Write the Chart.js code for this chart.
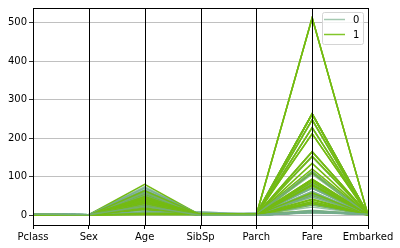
<!DOCTYPE html>
<html>
<head>
<meta charset="utf-8">
<script src="https://cdn.jsdelivr.net/npm/chart.js@4"></script>
<style>
  html, body { margin: 0; padding: 0; background: #fff; }
  #wrap { width: 400px; height: 248px; position: relative; }
</style>
</head>
<body>
<div id="wrap"><canvas id="pc"></canvas></div>
<script>
// axes of the parallel coordinates plot
const columns = ['Pclass', 'Sex', 'Age', 'SibSp', 'Parch', 'Fare', 'Embarked'];
const yTicks = [0, 100, 200, 300, 400, 500];
const classNames = ['0', '1'];

// one entry per passenger (row order = draw order)
const survived = [0,1,1,1,0,0,0,1,1,1,0,0,0,1,0,1,0,1,0,1,0,1,0,1,1,1,0,1,0,1,1,0,1,0,1,0,1,0,0,1,0,1,1,0,1,1,1,0,1,1,0,1,1,0,1,0,1,0,1,0,1,0,1,0,1,0,1,0,1,0,1,0,1,0,1,1,0,1,0,1,1,1,1,0,1,0];
const pclass   = [3,1,3,1,3,1,3,3,2,1,3,3,1,1,1,1,3,1,3,1,1,1,3,1,1,1,2,1,1,1,1,3,1,1,1,3,1,3,3,1,1,1,1,2,1,1,1,3,1,1,1,1,2,2,1,3,1,1,1,3,1,1,1,1,1,1,1,1,1,1,1,3,1,1,1,1,3,1,1,1,1,1,3,3,1,2];
const sex      = [1,0,0,0,1,1,1,0,0,0,1,1,1,0,1,0,0,1,1,0,1,0,1,0,1,1,1,0,1,0,0,1,0,1,0,1,1,1,0,0,1,0,0,1,0,0,0,1,1,0,1,0,0,1,0,1,0,1,0,1,0,1,1,1,0,1,0,1,0,1,0,1,0,1,0,0,1,0,1,0,0,0,0,1,0,1];
const age      = [22,38,26,35,35,54,2,27,14,58,20,39,19,49,71,23,14,28,4,24,24,50,66,36,35,36,42,18,47,15,43,9,22,45,64,74,80,8,9,60,70,39,53,30,17,45,21,40,48,33,2,62,0.92,62,58,32,30,65,35,61,56,46,36,19,44,54,31,28,41,50,52,25,38,64,18,26,51,45,58,48,24,63,5,28,30,23];
const sibsp    = [1,1,0,1,0,0,3,0,1,0,0,1,3,1,0,3,0,0,4,0,0,0,0,0,0,0,1,1,1,0,0,5,0,1,1,0,0,8,8,1,1,1,2,0,1,0,2,1,1,0,1,0,1,0,0,0,0,0,1,0,0,1,1,1,0,0,1,1,0,1,1,0,0,1,2,0,0,1,0,1,3,1,4,0,0,0];
const parch    = [0,0,0,0,0,0,1,2,0,0,0,5,2,0,0,2,0,0,1,0,1,1,0,0,0,1,0,0,0,1,1,2,1,1,4,0,0,2,2,4,1,1,0,0,0,0,2,6,0,0,2,0,2,0,1,0,0,1,0,0,1,0,2,0,1,1,0,0,0,0,1,0,0,4,2,0,0,1,2,0,2,0,2,0,0,0];
const fare     = [7.25,71.28,7.93,53.1,8.05,51.86,21.08,11.13,30.07,26.55,8.05,31.28,263,76.73,34.65,263,7.85,35.5,29.12,247.52,247.52,247.52,8.05,512.33,512.33,512.33,27,227.53,227.53,211.34,211.34,46.9,55,164.87,263,7.78,30,69.55,69.55,263,71,110.88,51.48,13,108.9,164.87,262.38,46.9,76.73,151.55,151.55,80,41.58,10.5,153.46,56.5,93.5,61.98,90,6.24,83.16,61.18,120,53.1,57.98,77.29,113.28,82.17,134.5,106.43,93.5,7.05,227.53,263,262.38,78.85,7.75,164.87,113.28,39.6,263,77.96,31.39,7.9,86.5,10.5];
const embarked = [2,0,2,2,2,2,2,2,0,2,2,2,2,0,0,2,2,2,1,0,0,0,2,0,0,0,2,0,0,2,2,2,2,2,2,2,2,2,2,2,2,0,2,2,0,2,0,2,0,2,2,2,2,2,2,2,2,0,2,2,0,2,2,2,0,2,0,0,0,0,2,2,0,2,0,2,2,2,0,0,2,2,2,2,2,2];

const classColors = ['rgba(118,172,140,0.75)', '#74bb12'];
const legendColors = ['#a4c9b1', '#82c62a'];

const datasets = [];
for (let i = 0; i < survived.length; i++) {
    datasets.push({
        label: classNames[survived[i]],
        data: [pclass[i], sex[i], age[i], sibsp[i], parch[i], fare[i], embarked[i]],
        borderColor: classColors[survived[i]],
        borderWidth: 1.5,
        pointRadius: 0,
        tension: 0,
        fill: false,
        // later rows end up on top, like matplotlib
        order: survived.length - i
    });
}

// black spines + vertical axis lines + the small legend box at top right
const frameAndLegend = {
    id: 'frameAndLegend',
    afterDatasetsDraw(chart) {
        const { ctx, chartArea: a, scales } = chart;
        ctx.save();
        ctx.strokeStyle = '#000';
        ctx.lineWidth = 1;
        columns.forEach((c, i) => {
            const x = Math.round(scales.x.getPixelForValue(i)) + 0.5;
            ctx.beginPath();
            ctx.moveTo(x, a.top);
            ctx.lineTo(x, a.bottom);
            ctx.stroke();
        });
        const l = Math.round(a.left) + 0.5, r = Math.round(a.right) + 0.5;
        const t = Math.round(a.top) + 0.5, b = Math.round(a.bottom) + 0.5;
        ctx.strokeRect(l, t, r - l, b - t);
        ctx.restore();
    },
    afterDraw(chart) {
        const ctx = chart.ctx;
        const bx = 322, by = 12, bw = 41, bh = 32;
        ctx.save();
        ctx.fillStyle = 'rgba(255,255,255,0.8)';
        ctx.strokeStyle = '#d4d4d4';
        ctx.lineWidth = 1;
        ctx.beginPath();
        ctx.roundRect(bx + 0.5, by + 0.5, bw, bh, 2);
        ctx.fill();
        ctx.stroke();
        ctx.font = '10px "DejaVu Sans"';
        ctx.textBaseline = 'middle';
        ctx.textAlign = 'left';
        classNames.forEach((name, k) => {
            const y = by + 7.5 + k * 15;
            ctx.strokeStyle = legendColors[k];
            ctx.lineWidth = 1.5;
            ctx.beginPath();
            ctx.moveTo(bx + 2, y);
            ctx.lineTo(bx + 23, y);
            ctx.stroke();
            ctx.fillStyle = '#000';
            ctx.fillText(name, bx + 31, y + 0.5);
        });
        ctx.restore();
    }
};

new Chart(document.getElementById('pc'), {
    type: 'line',
    data: { labels: columns, datasets: datasets },
    options: {
        responsive: true,
        maintainAspectRatio: false,
        animation: false,
        events: [],
        layout: { padding: { top: 6, right: 32, left: 0, bottom: 0 } },
        plugins: { legend: { display: false }, tooltip: { enabled: false } },
        scales: {
            x: {
                type: 'category',
                offset: false,
                afterFit: s => { s.height = 23; },
                grid: { display: true, drawOnChartArea: false, color: '#000', tickLength: 4, tickColor: '#000' },
                border: { display: false },
                ticks: {
                    autoSkip: false, maxRotation: 0, minRotation: 0, padding: 2,
                    color: '#000', font: { family: 'DejaVu Sans', size: 10 }
                }
            },
            y: {
                min: -25.6,
                max: 537.9,
                afterFit: s => { s.width = 33; },
                afterBuildTicks: s => { s.ticks = yTicks.map(v => ({ value: v })); },
                grid: { color: '#b0b0b0', lineWidth: 0.8, tickLength: 4, tickColor: '#000' },
                border: { display: false },
                ticks: { padding: 2, color: '#000', font: { family: 'DejaVu Sans', size: 10 } }
            }
        }
    },
    plugins: [frameAndLegend]
});
</script>
</body>
</html>
